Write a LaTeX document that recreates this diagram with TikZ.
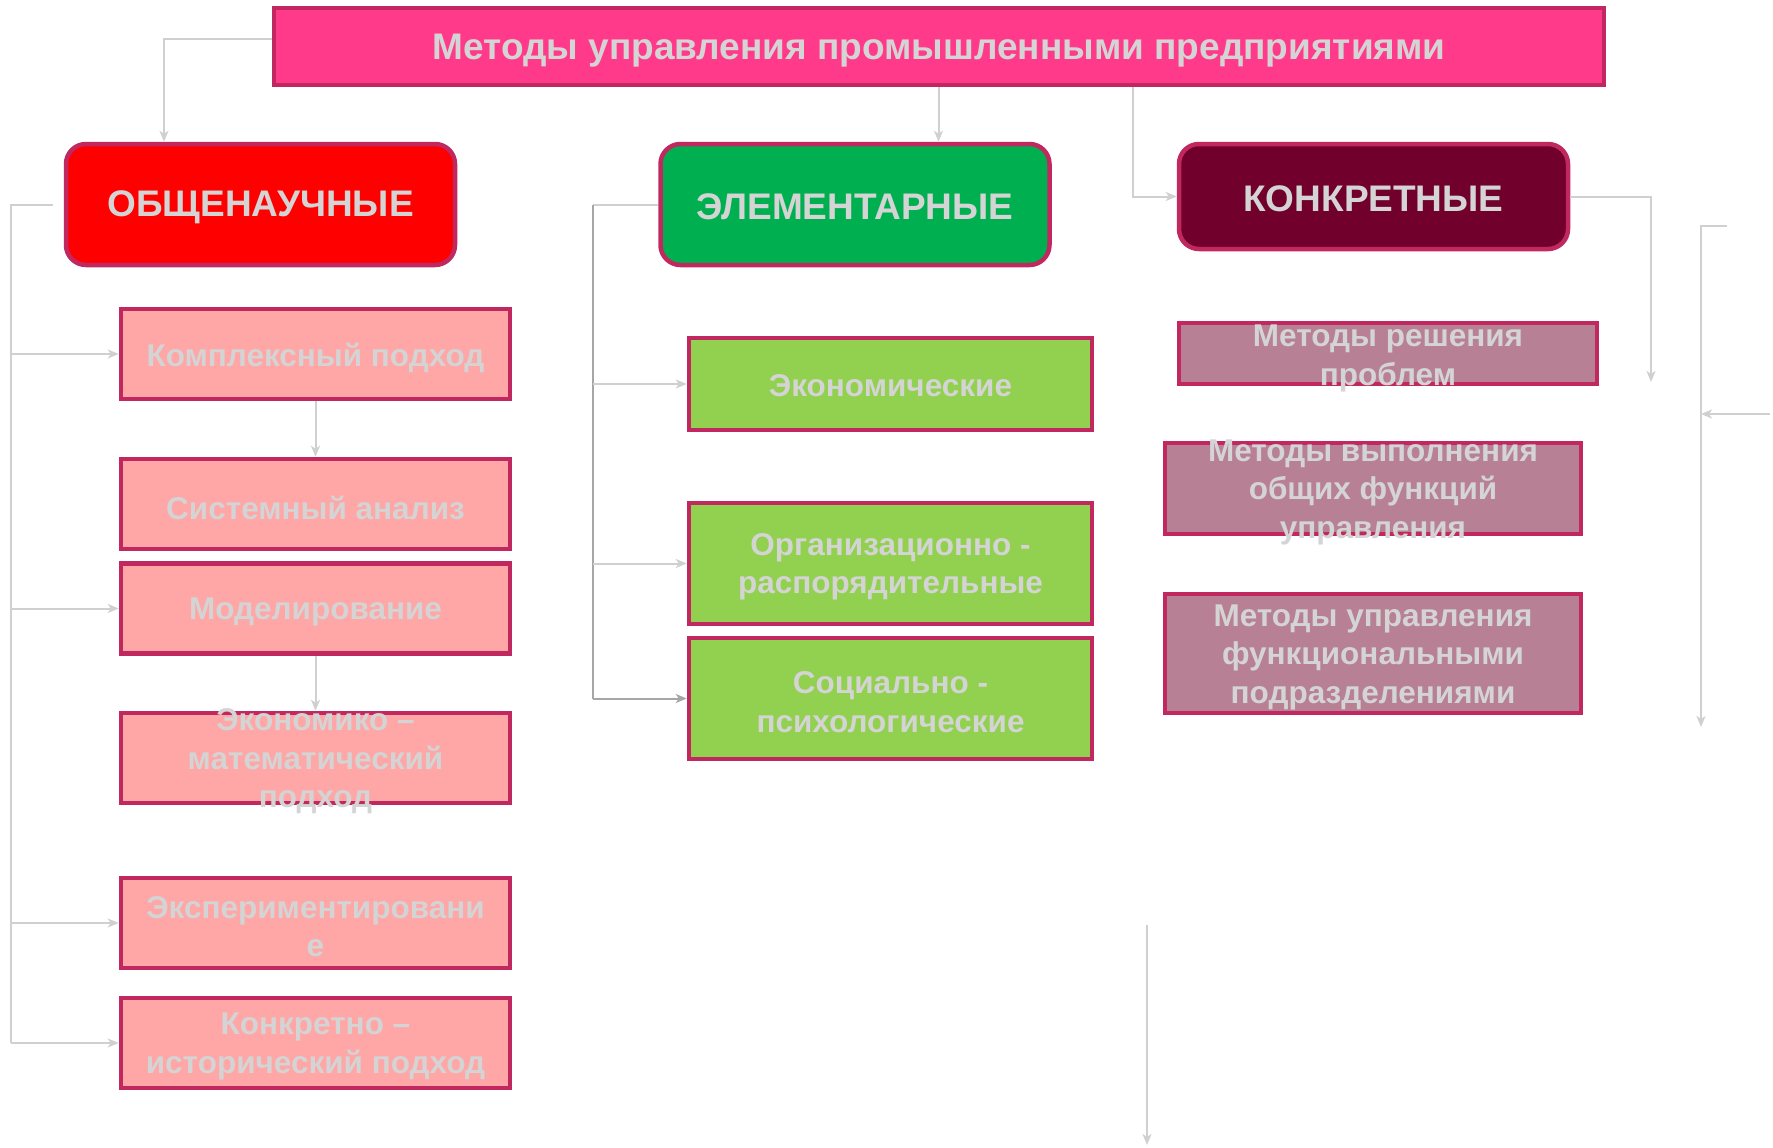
\documentclass[tikz,border=0pt]{standalone}
\usepackage{fontspec}
\setmainfont{Liberation Sans}
\usetikzlibrary{arrows.meta}
\definecolor{bord}{HTML}{C0285F}
\definecolor{titlefill}{HTML}{FF3A8A}
\definecolor{redfill}{HTML}{FF0000}
\definecolor{greenfill}{HTML}{00B050}
\definecolor{maroonfill}{HTML}{72002C}
\definecolor{pinkfill}{HTML}{FFA6A6}
\definecolor{lgreenfill}{HTML}{92D050}
\definecolor{mauvefill}{HTML}{B88094}
\definecolor{txtgray}{HTML}{D4D4D4}
\definecolor{lineg}{HTML}{D0D0D0}
\definecolor{lined}{HTML}{A6A6A6}
\tikzset{
  frame/.style={draw=bord, line width=4.5pt, inner sep=0pt},
  catbox/.style={frame, rounded corners=20pt, minimum width=389pt, minimum height=121pt},
  leftbox/.style={frame, fill=pinkfill, minimum width=389pt, minimum height=90pt},
  midbox/.style={frame, fill=lgreenfill, minimum width=403pt},
  rightbox/.style={frame, fill=mauvefill},
  txt/.style={text=txtgray, align=center, inner sep=0pt},
  boxtxt/.style={txt, font=\bfseries\fontsize{31.5}{38.5}\selectfont, yshift=-3.5pt},
  cattxt/.style={txt, font=\bfseries\fontsize{37}{44}\selectfont, yshift=-2.5pt},
  line/.style={draw=lineg, line width=2pt},
  conn/.style={line, -{Stealth[length=11pt,width=9pt,inset=3pt]}},
  dconn/.style={conn, draw=lined},
}
\begin{document}
\begin{tikzpicture}[x=1pt,y=-1pt]
\useasboundingbox (0,0) rectangle (1773,1148);

% title
\node[frame, fill=titlefill, minimum width=1330pt, minimum height=77pt] (title) at (939,46.5) {};
\node[cattxt, yshift=-2pt] (titlet) at (title) {Методы управления промышленными предприятиями};

% categories
\node[catbox, fill=redfill] (obsh) at (260.5,204.5) {};
\node[cattxt] (obsht) at (obsh) {ОБЩЕНАУЧНЫЕ};
\node[catbox, fill=greenfill] (elem) at (855,204.5) {};
\node[cattxt] (elemt) at (elem) {ЭЛЕМЕНТАРНЫЕ};
\node[catbox, fill=maroonfill, minimum height=105pt] (konk) at (1373.5,196.5) {};
\node[cattxt] (konkt) at (konk) {КОНКРЕТНЫЕ};

% left column
\node[leftbox] (b1) at (315.5,354) {};
\node[boxtxt] (b1t) at (b1) {Комплексный подход};
\node[leftbox] (b2) at (315.5,504) {};
\node[boxtxt] (b2t) at (b2) {Системный анализ};
\node[leftbox] (b3) at (315.5,608.5) {};
\node[boxtxt] (b3t) at (b3) {Моделирование};
\node[leftbox] (b4) at (315.5,758) {};
\node[boxtxt] (b4t) at (b4) {Экономико –\\математический\\подход};
\node[leftbox] (b5) at (315.5,923) {};
\node[boxtxt] (b5t) at (b5) {Экспериментировани\\е};
\node[leftbox] (b6) at (315.5,1043) {};
\node[boxtxt] (b6t) at (b6) {Конкретно –\\исторический подход};

% middle column
\node[midbox, minimum height=92pt] (m1) at (890.5,384) {};
\node[boxtxt, yshift=2pt] (m1t) at (m1) {Экономические};
\node[midbox, minimum height=121pt] (m2) at (890.5,563.5) {};
\node[boxtxt] (m2t) at (m2) {Организационно -\\распорядительные};
\node[midbox, minimum height=121pt] (m3) at (890.5,698.5) {};
\node[boxtxt] (m3t) at (m3) {Социально -\\психологические};

% right column
\node[rightbox, minimum width=418pt, minimum height=61pt] (r1) at (1388,353.5) {};
\node[boxtxt, yshift=-1.5pt] (r1t) at (r1) {Методы решения\\проблем};
\node[rightbox, minimum width=416pt, minimum height=91pt] (r2) at (1373,488.5) {};
\node[boxtxt] (r2t) at (r2) {Методы выполнения\\общих функций\\управления};
\node[rightbox, minimum width=416pt, minimum height=119pt] (r3) at (1373,653.5) {};
\node[boxtxt] (r3t) at (r3) {Методы управления\\функциональными\\подразделениями};

% connectors from title
\coordinate (c1) at (164,39);
\draw[conn] (title.west |- c1) -| (obsh.north -| c1);
\coordinate (c2) at (938.5,0);
\draw[conn] (title.south -| c2) -- (elem.north -| c2);
\coordinate (c3) at (1133,0);
\draw[conn] (title.south -| c3) |- (konk.west);
\coordinate (c4) at (1651,382);
\draw[conn] (konk.east) -| (c4);

% free lines on the right
\coordinate (f1) at (1727,226);
\coordinate (f2) at (1701,727);
\draw[conn] (f1) -| (f2);
\coordinate (f3) at (1770,414);
\draw[conn] (f3) -- (f3 -| f2);
\coordinate (f4) at (1147,925);
\coordinate (f5) at (1147,1145);
\draw[conn] (f4) -- (f5);

% left tree
\coordinate (lt) at (53,205);
\coordinate (lx) at (11,0);
\draw[line] (lt) -- (lt -| lx) -- (lx |- b6.west);
\draw[conn] (lx |- b1.west) -- (b1.west);
\draw[conn] (lx |- b3.west) -- (b3.west);
\draw[conn] (lx |- b5.west) -- (b5.west);
\draw[conn] (lx |- b6.west) -- (b6.west);
\draw[conn] (b1.south) -- (b2.north);
\draw[conn] (b3.south) -- (b4.north);

% middle tree
\coordinate (mx) at (592.5,0);
\draw[line] (elem.west) -- (elem.west -| mx);
\draw[line, draw=lined] (elem.west -| mx) -- (mx |- m3.west);
\draw[conn] (mx |- m1.west) -- (m1.west);
\draw[conn] (mx |- m2.west) -- (m2.west);
\draw[dconn] (mx |- m3.west) -- (m3.west);
\end{tikzpicture}
\end{document}
